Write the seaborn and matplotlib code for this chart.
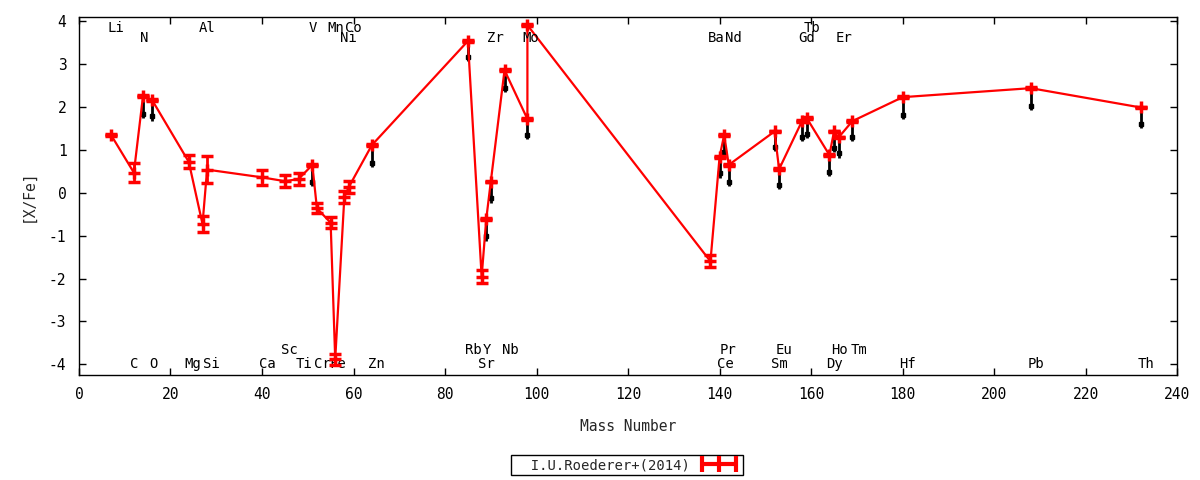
import numpy as np
import pandas as pd
import seaborn as sns
import matplotlib
matplotlib.use("Agg")
import matplotlib.pyplot as plt
from matplotlib.lines import Line2D

# Red series: mass number, [X/Fe], error
elements = ["Li", "C", "N", "O", "Mg", "Al", "Si", "Ca", "Sc", "Ti", "V", "Cr", "Mn", "Fe",
            "Ni", "Co", "Zn", "Rb", "Sr", "Y", "Zr", "Nb", "Mo", "Tc", "Ba", "Ce", "Pr", "Nd",
            "Eu", "Sm", "Gd", "Tb", "Dy", "Ho", "Er", "Tm", "Hf", "Pb", "Th"]
mass = [7, 12, 14, 16, 24, 27, 28, 40, 45, 48, 51, 52, 55, 56,
        58, 59, 64, 85, 88, 89, 90, 93, 98, 98, 138, 140, 141, 142,
        152, 153, 158, 159, 164, 165, 166, 169, 180, 208, 232]
xfe = [1.35, 0.47, 2.26, 2.16, 0.72, -0.73, 0.54, 0.36, 0.27, 0.32, 0.65, -0.36, -0.70, -3.88,
       -0.09, 0.14, 1.11, 3.54, -1.96, -0.62, 0.26, 2.86, 1.72, 3.91, -1.60, 0.84, 1.35, 0.65,
       1.43, 0.55, 1.67, 1.75, 0.88, 1.43, 1.29, 1.67, 2.23, 2.44, 1.99]
err = [0.02, 0.22, 0.02, 0.02, 0.15, 0.18, 0.32, 0.17, 0.14, 0.15, 0.02, 0.12, 0.13, 0.13,
       0.14, 0.14, 0.02, 0.02, 0.15, 0.02, 0.02, 0.02, 0.02, 0.02, 0.14, 0.02, 0.02, 0.02,
       0.02, 0.02, 0.02, 0.02, 0.02, 0.02, 0.02, 0.02, 0.02, 0.02, 0.02]

# black marks below some points
black_el = ["N", "O", "V", "Zn", "Rb", "Y", "Zr", "Nb", "Mo", "Ce", "Pr", "Nd", "Eu", "Sm",
            "Gd", "Tb", "Dy", "Ho", "Er", "Tm", "Hf", "Pb", "Th"]
black_val = [1.84, 1.78, 0.26, 0.70, 3.17, -1.02, -0.13, 2.44, 1.35, 0.45, 0.96, 0.26, 1.07, 0.18,
             1.31, 1.37, 0.49, 1.04, 0.92, 1.31, 1.81, 2.02, 1.60]

# element labels: text, x position, row (0,1 top; 2,3 bottom)
lab_text = ["Li", "Al", "V", "Mn", "Co", "Tb",
            "N", "Ni", "Zr", "Mo", "Ba", "Nd", "Gd", "Er",
            "Sc", "Rb", "Y", "Nb", "Pr", "Eu", "Ho", "Tm",
            "C", "O", "Mg", "Si", "Ca", "Ti", "Cr", "Fe", "Zn", "Sr", "Ce", "Sm", "Dy", "Hf", "Pb", "Th"]
lab_x = [8.1, 28.0, 51.1, 56.2, 59.9, 160.2,
         14.2, 58.8, 90.9, 98.8, 139.2, 143.1, 159.1, 167.2,
         45.9, 86.1, 89.2, 94.2, 141.9, 154.1, 166.1, 170.5,
         12.0, 16.2, 24.9, 28.9, 41.1, 49.2, 53.1, 56.6, 65.1, 89.0, 141.2, 153.0, 165.2, 181.0, 209.2, 233.2]
lab_row = [0] * 6 + [1] * 8 + [2] * 8 + [3] * 16
row_y = {0: 3.84, 1: 3.61, 2: -3.67, 3: -4.0}

df = pd.DataFrame({"el": elements, "mass": mass, "xfe": xfe, "err": err})
blk = pd.DataFrame({"el": black_el, "val": black_val}).merge(df, on="el")

sns.set_theme(style="ticks")
plt.rcParams["font.family"] = ["DejaVu Sans Mono", "DejaVu Sans"]
plt.rcParams["font.size"] = 10
plt.rcParams["axes.unicode_minus"] = False

fig = plt.figure(figsize=(12, 4.8), dpi=100)
ax = fig.add_axes([0.0658, 0.2188, 0.9152, 0.7458])

# black marks
ax.errorbar(blk["mass"], blk["val"], yerr=[np.full(len(blk), 0.1), blk["xfe"] - blk["val"]],
            fmt="s", color="black", ms=2.5, elinewidth=2, capsize=0, zorder=2)

sns.lineplot(data=df, x="mass", y="xfe", sort=False, color="red", lw=1.6, ax=ax, zorder=3,
             estimator=None)
ax.errorbar(df["mass"], df["xfe"], yerr=df["err"], fmt="+", color="red", ms=8, mew=2.5,
            elinewidth=2, capsize=4, capthick=2.5, zorder=4)

for t, x, r in zip(lab_text, lab_x, lab_row):
    ax.text(x, row_y[r], t, ha="center", va="center", fontsize=10, color="black")

ax.set_xlim(0, 240)
ax.set_ylim(-4.25, 4.1)
ax.set_xticks(range(0, 241, 20))
ax.set_yticks(range(-4, 5))
ax.tick_params(direction="in", top=True, right=True, length=5, width=1, colors="black",
               labelsize=10.5)
ax.tick_params(axis="x", pad=9)
ax.tick_params(axis="y", pad=9)
for s in ax.spines.values():
    s.set_linewidth(1)
    s.set_color("black")
ax.set_xlabel("Mass Number", fontsize=10.5, labelpad=12)
ax.set_ylabel("[X/Fe]", fontsize=10.5, labelpad=10)

handle = Line2D([], [], color="red", lw=3, marker="|", ms=11, mew=3)
leg = fig.legend([handle], ["  I.U.Roederer+(2014)"], loc="center", bbox_to_anchor=(0.5225, 0.031),
                 markerfirst=False, fancybox=False, framealpha=1, edgecolor="black",
                 fontsize=10, handlelength=3.0, borderpad=0.2, handletextpad=0.6, numpoints=3)
leg.get_frame().set_linewidth(1)

fig.savefig("out.png", dpi=100)
